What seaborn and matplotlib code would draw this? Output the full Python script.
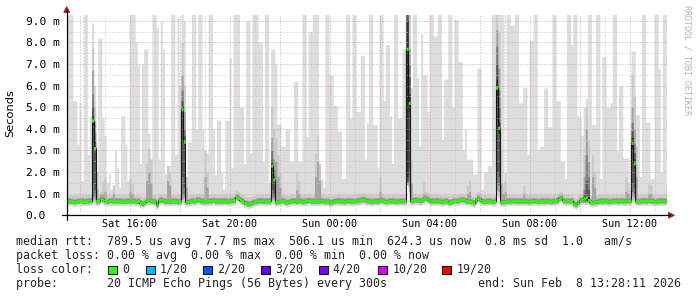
import numpy as np
import pandas as pd
import matplotlib
matplotlib.use("Agg")
import matplotlib.pyplot as plt
import matplotlib.dates as mdates
import matplotlib.transforms as mtransforms
from matplotlib.patches import Rectangle, Polygon
from matplotlib.lines import Line2D
import seaborn as sns

# ---------------- data ----------------
end_time = "2026-02-08 13:28:11"
step_seconds = 300
n_steps = 288

# median rtt per 5-minute step (ms)
median_ms = [
    0.66, 0.67, 0.65, 0.62, 0.64, 0.66, 0.67, 0.66, 0.65, 0.66, 0.67, 0.68,
    4.38, 3.11, 0.66, 0.68, 0.80, 0.74, 0.66, 0.64, 0.67, 0.68, 0.66, 0.67,
    0.66, 0.67, 0.66, 0.65, 0.66, 0.67, 0.66, 0.68, 0.66, 0.65, 0.66, 0.58,
    0.55, 0.60, 0.70, 0.72, 0.68, 0.66, 0.65, 0.50, 0.70, 0.72, 0.68, 0.66,
    0.66, 0.65, 0.66, 0.67, 0.66, 0.65, 0.66, 4.90, 3.40, 0.62, 0.64, 0.66,
    0.68, 0.66, 0.72, 0.73, 0.68, 0.66, 0.65, 0.66, 0.68, 0.67, 0.70, 0.66,
    0.66, 0.67, 0.66, 0.68, 0.66, 0.65, 0.67, 0.68, 0.70, 0.86, 0.80, 0.72,
    0.66, 0.58, 0.55, 0.53, 0.56, 0.60, 0.64, 0.66, 0.67, 0.68, 0.66, 0.67,
    0.66, 0.67, 2.30, 1.65, 0.62, 0.64, 0.66, 0.68, 0.66, 0.60, 0.62, 0.66,
    0.68, 0.67, 0.66, 0.68, 0.66, 0.64, 0.66, 0.68, 0.70, 0.66, 0.67, 0.66,
    0.66, 0.67, 0.68, 0.66, 0.65, 0.66, 0.60, 0.62, 0.66, 0.67, 0.68, 0.66,
    0.66, 0.65, 0.67, 0.68, 0.66, 0.65, 0.66, 0.68, 0.70, 0.72, 0.75, 0.70,
    0.68, 0.66, 0.65, 0.66, 0.67, 0.66, 0.72, 0.70, 0.66, 0.64, 0.66, 0.67,
    0.68, 0.66, 0.65, 0.66, 0.66, 0.67, 0.66, 7.70, 5.20, 0.68, 0.70, 0.72,
    0.70, 0.68, 0.70, 0.76, 0.80, 0.74, 0.68, 0.67, 0.66, 0.68, 0.66, 0.65,
    0.64, 0.66, 0.67, 0.60, 0.62, 0.66, 0.68, 0.66, 0.70, 0.73, 0.72, 0.68,
    0.66, 0.65, 0.62, 0.58, 0.70, 0.80, 0.74, 0.66, 0.65, 0.66, 0.67, 0.66,
    0.64, 0.65, 5.90, 4.05, 0.64, 0.62, 0.64, 0.66, 0.67, 0.66, 0.68, 0.66,
    0.66, 0.67, 0.66, 0.68, 0.66, 0.65, 0.66, 0.67, 0.68, 0.66, 0.65, 0.66,
    0.67, 0.66, 0.68, 0.66, 0.65, 0.66, 0.68, 0.70, 0.78, 0.82, 0.70, 0.66,
    0.68, 0.66, 0.67, 0.55, 0.50, 0.60, 0.70, 0.72, 0.78, 0.85, 0.70, 0.62,
    0.60, 0.62, 0.64, 0.66, 0.67, 0.66, 0.68, 0.66, 0.64, 0.66, 0.67, 0.68,
    0.66, 0.67, 0.68, 0.66, 0.67, 0.68, 0.68, 3.35, 2.40, 0.66, 0.65, 0.66,
    0.67, 0.68, 0.66, 0.70, 0.68, 0.66, 0.64, 0.66, 0.67, 0.68, 0.66, 0.67,
]

# highest of the 20 pings per step (ms)
ping_max_ms = [
    9.3, 9.3, 9.3, 5.3, 5.3, 3.3, 5.2, 1.6, 9.3, 9.3, 2.8, 4.6,
    8.9, 6.0, 1.1, 8.2, 8.2, 4.5, 3.7, 1.5, 1.9, 1.2, 1.4, 3.0,
    2.2, 1.3, 4.6, 4.6, 3.3, 1.6, 9.3, 9.3, 9.3, 8.0, 7.0, 2.4,
    7.0, 7.7, 7.7, 3.8, 1.8, 9.3, 9.3, 8.7, 2.6, 9.0, 7.7, 1.9,
    2.3, 2.3, 9.3, 9.3, 2.8, 9.1, 6.0, 9.3, 9.0, 1.3, 3.4, 3.4,
    9.3, 9.3, 4.0, 9.3, 9.3, 4.0, 2.9, 2.9, 9.3, 9.3, 4.0, 1.9,
    4.4, 4.4, 2.0, 1.2, 4.4, 4.4, 7.3, 2.2, 9.3, 9.3, 9.3, 5.0,
    5.0, 2.4, 9.0, 9.0, 2.9, 9.3, 9.3, 9.3, 8.0, 8.0, 2.5, 9.3,
    9.3, 1.5, 7.7, 7.7, 7.0, 4.2, 4.2, 3.2, 3.2, 4.0, 4.0, 2.5,
    2.5, 6.2, 6.2, 2.5, 2.5, 9.3, 9.3, 3.65, 8.5, 8.5, 9.3, 9.3,
    9.3, 1.7, 1.7, 1.3, 9.3, 9.3, 6.5, 6.5, 5.1, 5.1, 3.9, 3.9,
    1.7, 1.7, 9.3, 9.3, 4.5, 9.3, 9.3, 4.8, 4.8, 7.4, 7.4, 2.6,
    4.3, 9.3, 9.3, 4.2, 4.2, 2.2, 9.3, 9.3, 5.3, 7.9, 7.9, 4.6,
    2.4, 9.3, 9.3, 4.5, 4.5, 7.7, 7.7, 9.3, 9.3, 5.9, 9.3, 9.3,
    6.4, 3.2, 8.4, 6.5, 6.5, 4.8, 9.3, 9.3, 8.3, 8.3, 9.3, 9.3,
    3.5, 6.3, 6.3, 9.3, 9.3, 5.0, 9.05, 9.05, 7.1, 7.1, 3.0, 4.0,
    2.6, 2.6, 2.6, 1.9, 1.9, 6.8, 6.8, 1.2, 2.0, 2.0, 2.3, 2.3,
    9.3, 9.3, 9.3, 9.3, 9.3, 9.3, 2.0, 9.3, 9.3, 8.8, 8.8, 9.3,
    9.3, 5.2, 5.2, 5.9, 5.9, 2.8, 8.1, 8.1, 9.3, 9.3, 3.0, 3.2,
    3.2, 5.9, 5.9, 4.1, 4.1, 9.3, 9.3, 5.3, 5.3, 2.5, 2.5, 1.7,
    9.3, 9.3, 7.9, 9.3, 9.3, 4.6, 4.6, 3.7, 5.0, 5.4, 9.3, 9.3,
    4.2, 4.2, 9.3, 9.3, 1.7, 7.35, 7.35, 5.0, 5.0, 5.2, 9.3, 9.3,
    3.0, 6.0, 6.0, 2.65, 2.65, 2.65, 1.2, 7.6, 7.6, 4.65, 4.65, 1.8,
    9.3, 9.3, 4.3, 4.3, 1.7, 1.7, 9.3, 9.3, 6.8, 2.0, 9.3, 9.3,
]

# usual spread of the other pings around the median (ms):
# p1, p2, p4, p6, p8, p10, p11, p13, p15, p17, p19
normal_offsets_ms = [-0.22, -0.15, -0.11, -0.08, -0.05, -0.02, 0.02, 0.05, 0.09, 0.15, 0.30]

# steps with a raised upper tail: step -> (p17, p19)
upper_tail_ms = {
    14: (1.2, 2.0), 17: (1.0, 1.6), 18: (1.1, 1.8), 22: (1.0, 1.4), 30: (1.1, 1.7),
    31: (1.0, 1.5), 38: (1.6, 2.4), 39: (2.0, 3.1), 40: (1.5, 2.6), 48: (1.6, 2.3),
    49: (1.4, 2.0), 57: (1.3, 1.8), 66: (1.8, 3.0), 67: (1.3, 2.0), 100: (2.5, 3.6),
    101: (1.8, 2.8), 102: (1.3, 2.0), 110: (1.2, 2.0), 111: (1.0, 1.6), 119: (1.8, 2.9),
    120: (2.5, 3.7), 121: (1.6, 2.4), 150: (1.1, 1.8), 165: (1.5, 2.6), 171: (1.0, 1.6),
    192: (1.0, 1.4), 193: (1.1, 1.6), 208: (1.5, 3.0), 209: (1.0, 1.5), 210: (1.1, 1.6),
    219: (1.0, 1.4), 252: (1.8, 2.8), 253: (1.3, 2.0), 268: (1.1, 1.8), 269: (1.0, 1.5),
    273: (1.8, 3.2), 279: (1.0, 1.5), 280: (1.0, 1.4),
}

# steps with many slow pings: step -> [p1, p2, p4, p6, p8, p10, p11, p13, p15, p17, p19]
slow_steps_ms = {
    12: [0.50, 0.60, 0.70, 0.90, 1.50, 4.20, 4.60, 5.00, 5.60, 6.70, 7.80],
    13: [0.55, 0.65, 0.75, 0.90, 1.20, 3.00, 3.20, 3.40, 3.80, 4.30, 5.00],
    55: [0.52, 0.62, 0.75, 1.00, 1.80, 4.80, 5.00, 5.30, 5.80, 6.50, 8.00],
    56: [0.60, 0.70, 0.80, 0.95, 1.30, 3.30, 3.50, 3.70, 4.00, 4.80, 6.00],
    98: [0.52, 0.62, 0.75, 0.90, 1.20, 2.20, 2.40, 2.60, 3.00, 3.60, 5.00],
    99: [0.50, 0.60, 0.72, 0.85, 1.00, 1.60, 1.70, 1.85, 2.10, 2.60, 4.00],
    163: [1.40, 1.42, 1.45, 1.50, 1.60, 1.80, 9.00, 9.30, 9.30, 9.30, 9.30],
    164: [1.00, 1.10, 1.30, 1.60, 2.20, 4.80, 5.60, 6.40, 7.00, 7.70, 9.30],
    206: [0.90, 1.00, 1.20, 1.50, 2.00, 5.50, 6.30, 7.00, 7.80, 8.60, 9.30],
    207: [0.80, 0.90, 1.10, 1.40, 1.80, 3.80, 4.30, 5.00, 5.80, 6.80, 8.50],
    248: [0.50, 0.55, 0.60, 0.65, 0.70, 0.75, 0.80, 0.95, 1.20, 1.80, 2.80],
    249: [0.50, 0.55, 0.60, 0.65, 0.72, 0.80, 0.90, 1.60, 2.80, 4.00, 5.00],
    250: [0.50, 0.55, 0.60, 0.65, 0.70, 0.75, 0.85, 1.20, 1.80, 2.50, 3.50],
    271: [0.60, 0.70, 0.90, 1.10, 1.50, 3.10, 3.60, 3.90, 4.30, 5.00, 6.50],
    272: [0.60, 0.70, 0.85, 1.00, 1.30, 2.20, 2.60, 2.90, 3.30, 4.00, 5.50],
}

ytick_values = [0, 1, 2, 3, 4, 5, 6, 7, 8, 9]
ytick_labels = ["0.0", "1.0 m", "2.0 m", "3.0 m", "4.0 m", "5.0 m", "6.0 m", "7.0 m", "8.0 m", "9.0 m"]
xtick_times = ["2026-02-07 16:00", "2026-02-07 20:00", "2026-02-08 00:00",
               "2026-02-08 04:00", "2026-02-08 08:00", "2026-02-08 12:00"]
xtick_labels = ["Sat 16:00", "Sat 20:00", "Sun 00:00", "Sun 04:00", "Sun 08:00", "Sun 12:00"]

loss_labels = ["0", "1/20", "2/20", "3/20", "4/20", "10/20", "19/20"]
loss_colors = ["#26ff00", "#00b8ff", "#0059ff", "#5e00ff", "#7e00ff", "#dd00ff", "#ff0000"]

legend_line1 = "median rtt:  789.5 us avg  7.7 ms max  506.1 us min  624.3 us now  0.8 ms sd  1.0   am/s"
legend_line2 = "packet loss: 0.00 % avg  0.00 % max  0.00 % min  0.00 % now"
legend_line3 = "loss color:"
legend_line4 = "probe:       20 ICMP Echo Pings (56 Bytes) every 300s"
legend_end = "end: Sun Feb  8 13:28:11 2026"
y_max_ms = 9.28

# ---------------- build quantile bands ----------------
median = np.array(median_ms)
pmax = np.array(ping_max_ms)
Q = np.zeros((n_steps, 11))
for i in range(n_steps):
    if i in slow_steps_ms:
        Q[i] = slow_steps_ms[i]
    else:
        Q[i] = median[i] + np.array(normal_offsets_ms)
        if i in upper_tail_ms:
            Q[i, 9], Q[i, 10] = upper_tail_ms[i]
p20 = np.maximum(pmax, Q[:, 10])

end = pd.Timestamp(end_time)
edges = pd.DatetimeIndex([end - pd.Timedelta(seconds=step_seconds * (n_steps - k)) for k in range(n_steps + 1)])
xe = mdates.date2num(edges.to_pydatetime())


def ext(a):
    a = np.asarray(a, dtype=float)
    return np.append(a, a[-1])


# ---------------- figure ----------------
W, H = 697, 297
sns.set_theme(style="white")
plt.rcParams["font.family"] = ["DejaVu Sans Mono"]
fig = plt.figure(figsize=(W / 100, H / 100), dpi=100)
fig.patch.set_facecolor("white")

x0, x1 = 66.5, 666.5
y0, y1 = 215.3, 14.7
ax = fig.add_axes([x0 / W, 1 - y0 / H, (x1 - x0) / W, (y0 - y1) / H])
ax.set_facecolor("white")
for s in ax.spines.values():
    s.set_visible(False)

bands = [
    (Q[:, 0], p20, "#dddddd"),
    (Q[:, 1], Q[:, 10], "#cacaca"),
    (Q[:, 2], Q[:, 9], "#a4a4a4"),
    (Q[:, 3], Q[:, 8], "#7e7e7e"),
    (Q[:, 4], Q[:, 7], "#585858"),
    (Q[:, 5], Q[:, 6], "#323232"),
]
for lo, hi, c in bands:
    ax.fill_between(xe, ext(lo), ext(hi), step="post", color=c, lw=0, zorder=1)

# grid
hours = pd.date_range("2026-02-07 14:00", "2026-02-08 13:00", freq="1h")
for h in hours:
    col = "#e2a0a0" if h.hour % 2 == 0 else "#c8c8c8"
    ax.axvline(mdates.date2num(h.to_pydatetime()), color=col, lw=0.72,
               linestyle=(0, (1, 2)), zorder=2)
for k in range(1, 19):
    v = k * 0.5
    col = "#e2a0a0" if k % 2 == 0 else "#c8c8c8"
    ax.axhline(v, color=col, lw=0.72, linestyle=(0, (1, 2)), zorder=2)

# median line (dark) and loss-coloured band
sns.lineplot(x=xe, y=ext(median), drawstyle="steps-post", color="#151515",
             linewidth=0.8, estimator=None, ax=ax, zorder=3)
gw = 0.07
ax.fill_between(xe, ext(median) - gw, ext(median) + gw, step="post",
                color=loss_colors[0], lw=0, zorder=4)

ax.set_xlim(xe[0], xe[-1])
ax.set_ylim(0, y_max_ms)
ax.set_xticks(mdates.date2num(pd.to_datetime(xtick_times).to_pydatetime()), xtick_labels)
ax.tick_params(axis="x", length=0, pad=3.0, labelsize=7.3, colors="black")
ax.set_yticks([])
ax.set_xlabel("")
ax.set_ylabel("")

# y tick labels (left aligned, monospace)
trans = mtransforms.blended_transform_factory(fig.transFigure, ax.transData)
for v, lab in zip(ytick_values, ytick_labels):
    ax.text(25.5 / W, v, lab, transform=trans, ha="left", va="center_baseline",
            fontsize=8.1, color="black", clip_on=False)


def P(x, y):
    return (x / W, 1 - y / H)


# axis lines with arrows
ax_col = "black"
fig.add_artist(Line2D([62 / W, 669 / W], [1 - 215.3 / H] * 2, color=ax_col, lw=0.9,
                      transform=fig.transFigure))
fig.add_artist(Line2D([66.7 / W] * 2, [1 - 220 / H, 1 - 11 / H], color=ax_col, lw=0.9,
                      transform=fig.transFigure))
arrow_col = "#8b1a1a"
fig.add_artist(Polygon([P(668.5, 212.3), P(674.5, 215.3), P(668.5, 218.3)], closed=True,
                       facecolor=arrow_col, edgecolor=arrow_col, lw=0.5, transform=fig.transFigure))
fig.add_artist(Polygon([P(63.7, 12.5), P(66.7, 6.5), P(69.7, 12.5)], closed=True,
                       facecolor=arrow_col, edgecolor=arrow_col, lw=0.5, transform=fig.transFigure))

# y axis title
fig.text(*P(10.5, 113), "Seconds", rotation=90, ha="center", va="center",
         fontsize=8.2, family="DejaVu Sans", color="black")

# watermark
fig.text(*P(686.5, 5), "RRDTOOL / TOBI OETIKER", rotation=270, ha="center", va="top",
         fontsize=6.0, color="#b4b4b4")

# legend block
fs = 8.4
fig.text(*P(16, 245), legend_line1, ha="left", va="baseline", fontsize=fs)
fig.text(*P(16, 259), legend_line2, ha="left", va="baseline", fontsize=fs)
fig.text(*P(16, 273), legend_line3, ha="left", va="baseline", fontsize=fs)
fig.text(*P(16, 287), legend_line4, ha="left", va="baseline", fontsize=fs)
fig.text(*P(477.5, 287), legend_end, ha="left", va="baseline", fontsize=fs)

box_x = [108, 146, 203, 261, 319, 378, 442]
lab_x = [122.5, 159.5, 217.5, 275.5, 332.5, 392.5, 456.5]
for bx, lx, lab, c in zip(box_x, lab_x, loss_labels, loss_colors):
    fig.add_artist(Rectangle(P(bx, 274.2), 8.5 / W, 8.5 / H, transform=fig.transFigure,
                             facecolor=c, edgecolor="black", lw=0.7))
    fig.text(*P(lx, 273), lab, ha="left", va="baseline", fontsize=fs)

fig.savefig("out.png", dpi=100, facecolor="white")
